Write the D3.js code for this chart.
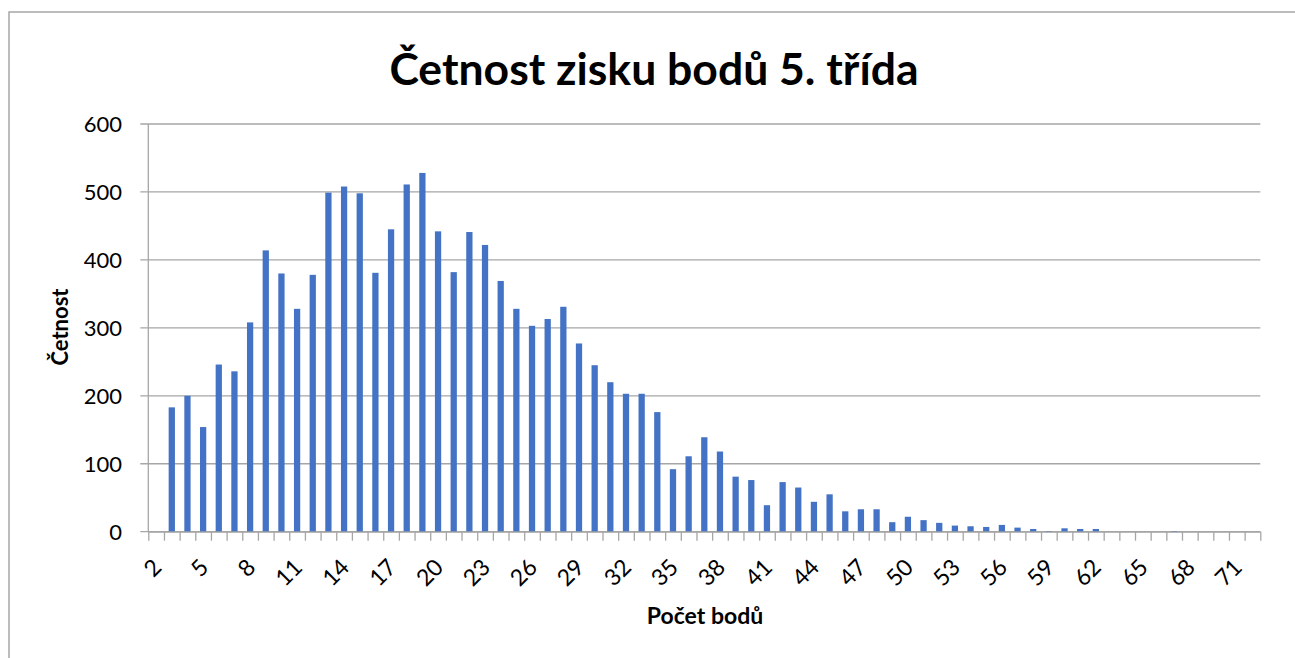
<!DOCTYPE html>
<html>
<head>
<meta charset="utf-8">
<script src="https://cdn.jsdelivr.net/npm/d3@7"></script>
<style>
  body { margin: 0; background: #fff; overflow: hidden; }
  text { font-family: Lato, "Open Sans", sans-serif; fill: #000; }
</style>
</head>
<body>
<div id="chart"></div>
<script>
// Body: points 2..72 and how often each was scored
const points = d3.range(2, 73)
const counts = [
  0, 183, 200, 154, 246, 236, 308, 414, 380, 328,
  378, 499, 508, 498, 381, 445, 511, 528, 442, 382,
  441, 422, 369, 328, 303, 313, 331, 277, 245, 220,
  203, 203, 176, 92, 111, 139, 118, 81, 76, 39,
  73, 65, 44, 55, 30, 33, 33, 14, 22, 17,
  13, 9, 8, 7, 10, 6, 4, 1, 5, 4,
  4, 0, 0, 0, 0, 1, 0, 0, 0, 0, 0
]
const yTicks = [0, 100, 200, 300, 400, 500, 600]
const title = "Četnost zisku bodů 5. třída"
const xTitle = "Počet bodů"
const yTitle = "Četnost"

const data = points.map((p, i) => ({ p: p, v: counts[i] }))

const width = 1295
const height = 658
const plotLeft = 148.3, plotRight = 1260.3, plotTop = 124, plotBottom = 531.7

let svg = d3.select("#chart")
            .append("svg")
            .attr("width", width)
            .attr("height", height)
            .style("display", "block")

// outer chart frame (right and bottom edges fall outside the picture)
svg.append("rect")
   .attr("x", 9)
   .attr("y", 12)
   .attr("width", 1300)
   .attr("height", 700)
   .attr("fill", "#fff")
   .attr("stroke", "#a6a6a6")
   .attr("stroke-width", 1.5)

let xScale = d3.scaleBand()
               .domain(points)
               .range([plotLeft, plotRight])
               .paddingInner(0.6)
               .paddingOuter(0.3)

let yScale = d3.scaleLinear()
               .domain([0, 600])
               .range([plotBottom, plotTop])

// gridlines
svg.append("g")
   .selectAll("line")
   .data(yTicks)
   .enter().append("line")
   .attr("x1", plotLeft - 8)
   .attr("x2", plotRight)
   .attr("y1", d => yScale(d))
   .attr("y2", d => yScale(d))
   .attr("stroke", "#a6a6a6")
   .attr("stroke-width", 1.3)

// y axis line
svg.append("line")
   .attr("x1", plotLeft).attr("x2", plotLeft)
   .attr("y1", plotTop).attr("y2", plotBottom)
   .attr("stroke", "#a6a6a6")
   .attr("stroke-width", 1.3)

// y tick labels
svg.append("g")
   .selectAll("text")
   .data(yTicks)
   .enter().append("text")
   .attr("x", 122)
   .attr("y", d => yScale(d))
   .attr("dy", "0.36em")
   .attr("text-anchor", "end")
   .style("font-size", "22px")
   .text(d => d)

// bars
svg.append("g")
   .selectAll("rect")
   .data(data)
   .enter().append("rect")
   .attr("x", d => xScale(d.p))
   .attr("width", xScale.bandwidth())
   .attr("y", d => yScale(d.v))
   .attr("height", d => yScale(0) - yScale(d.v))
   .attr("fill", "#4472c4")

// x axis with tick marks between categories
let edge = d3.scaleLinear()
             .domain([0, points.length])
             .range([plotLeft, plotRight])
let xAxis = d3.axisBottom(edge)
              .tickValues(d3.range(0, points.length + 1))
              .tickSize(9)
              .tickSizeOuter(0)
              .tickFormat("")
let gx = svg.append("g")
            .attr("transform", "translate(0," + plotBottom + ")")
            .call(xAxis)
gx.selectAll("line, path").attr("stroke", "#a6a6a6").attr("stroke-width", 1.3)

// rotated category labels, every third one
svg.append("g")
   .selectAll("text")
   .data(points.filter((p, i) => i % 3 === 0))
   .enter().append("text")
   .attr("text-anchor", "end")
   .attr("transform", d => "translate(" + (xScale(d) + xScale.bandwidth() / 2 - 5) + ",557) rotate(-45)")
   .attr("dy", "0.72em")
   .style("font-size", "23px")
   .text(d => d)

svg.append("text")
   .attr("x", 654)
   .attr("y", 85)
   .attr("text-anchor", "middle")
   .style("font-size", "44.5px")
   .style("font-weight", "bold")
   .text(title)

svg.append("text")
   .attr("x", 705)
   .attr("y", 624)
   .attr("text-anchor", "middle")
   .style("font-size", "23px")
   .style("font-weight", "bold")
   .text(xTitle)

svg.append("text")
   .attr("transform", "translate(68,327) rotate(-90)")
   .attr("text-anchor", "middle")
   .style("font-size", "22px")
   .style("font-weight", "bold")
   .text(yTitle)
</script>
</body>
</html>
